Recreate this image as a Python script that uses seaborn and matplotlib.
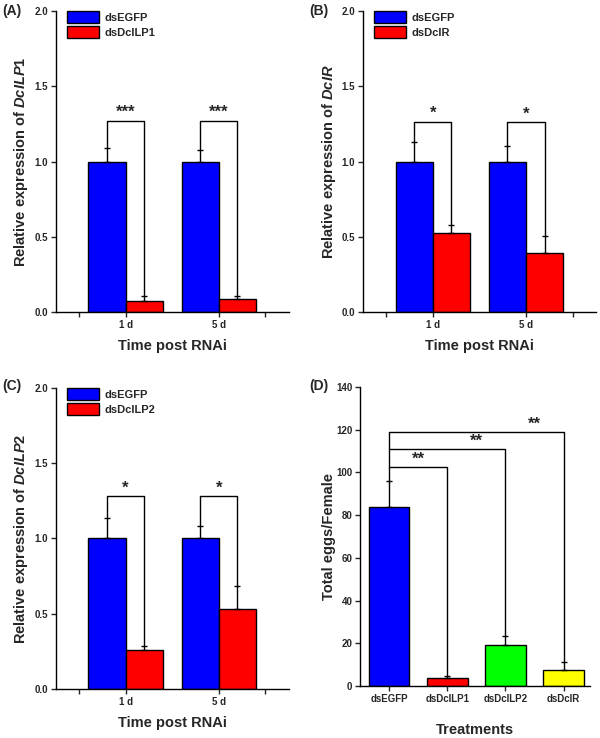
import matplotlib
matplotlib.use("Agg")
import matplotlib.pyplot as plt
import seaborn as sns
import pandas as pd
from matplotlib.patches import Patch

sns.set_style("ticks")
plt.rcParams['font.family'] = ['Liberation Sans', 'DejaVu Sans']
plt.rcParams['font.weight'] = 'bold'
plt.rcParams['axes.labelweight'] = 'bold'
plt.rcParams['mathtext.fontset'] = 'custom'
plt.rcParams['mathtext.it'] = 'Liberation Sans:italic:bold'
plt.rcParams['mathtext.rm'] = 'Liberation Sans:bold'

# data
days = ["1 d", "5 d"]

egfp_a = [1.0, 1.0]
egfp_a_err = [0.093, 0.075]
ilp1_a = [0.071, 0.084]
ilp1_a_err = [0.038, 0.025]
bracket_a = [1.27, 1.27]

egfp_b = [1.0, 1.0]
egfp_b_err = [0.131, 0.106]
ir_b = [0.523, 0.395]
ir_b_err = [0.053, 0.11]
bracket_b = [1.265, 1.26]

egfp_c = [1.0, 1.0]
egfp_c_err = [0.134, 0.081]
ilp2_c = [0.257, 0.532]
ilp2_c_err = [0.031, 0.15]
bracket_c = [1.28, 1.28]

treatments = ["dsEGFP", "dsDcILP1", "dsDcILP2", "dsDcIR"]
eggs = [84.0, 3.6, 19.3, 7.7]
eggs_err = [12.0, 1.2, 4.3, 3.5]
bracket_d = [102.5, 111.0, 119.0]
stars_d = ["**", "**", "**"]

BLUE = "#0000ff"
RED = "#ff0000"
TICK_FS = 7
LABEL_FS = 10.5
STAR_FS = 12

fig = plt.figure(figsize=(6, 7.38), dpi=100)


def style_axis(ax):
    sns.despine(ax=ax)
    ax.tick_params(axis="both", direction="out", length=3.5, width=1, labelsize=TICK_FS, pad=2)
    for s in ["left", "bottom"]:
        ax.spines[s].set_linewidth(1)
        ax.spines[s].set_color("black")
    for lab in ax.get_xticklabels() + ax.get_yticklabels():
        lab.set_fontweight("bold")


def expr_panel(rect, ctrl, ctrl_err, trt, trt_err, trt_name, gene, brackets, stars, tag, tag_xy):
    ax = fig.add_axes(rect)
    df = pd.DataFrame({
        "day": days + days,
        "group": ["dsEGFP"] * len(days) + [trt_name] * len(days),
        "value": ctrl + trt,
    })
    sns.barplot(data=df, x="day", y="value", hue="group", palette=[BLUE, RED],
                edgecolor="black", linewidth=1, errorbar=None, width=0.8,
                saturation=1, ax=ax, legend=False)
    tops = []
    for cont, err in zip(ax.containers, [ctrl_err, trt_err]):
        xs = [b.get_x() + b.get_width() / 2 for b in cont]
        ys = [b.get_height() for b in cont]
        ax.errorbar(xs, ys, yerr=[[0] * len(err), err], fmt="none", ecolor="black",
                    elinewidth=1, capsize=2.5, capthick=1, zorder=1)
        tops.append([(x, y + e) for x, y, e in zip(xs, ys, err)])
    for i in range(len(days)):
        (x1, y1), (x2, y2) = tops[0][i], tops[1][i]
        h = brackets[i]
        ax.plot([x1, x1, x2, x2], [y1, h, h, y2], color="black", lw=1, zorder=3)
        ax.text((x1 + x2) / 2, h + 0.005, stars, ha="center", va="bottom",
                fontsize=STAR_FS, fontweight="bold")
    ax.set_ylim(0, 2.0)
    ax.set_yticks([0, 0.5, 1.0, 1.5, 2.0])
    ax.set_xlim(-0.75, len(days) - 0.25)
    ax.set_xticks([-0.5] + list(range(len(days))) + [len(days) - 0.5],
                  [""] + days + [""])
    ax.set_xlabel("Time post RNAi", fontsize=LABEL_FS, fontweight="bold", labelpad=7)
    ax.set_ylabel("Relative expression of $\\mathit{" + gene + "}$", fontsize=LABEL_FS,
                  fontweight="bold", labelpad=3)
    handles = [Patch(facecolor=BLUE, edgecolor="black", lw=1),
               Patch(facecolor=RED, edgecolor="black", lw=1)]
    ax.legend(handles, ["dsEGFP", trt_name], loc="upper left", bbox_to_anchor=(0.047, 1.0),
              frameon=False, prop={"size": 8, "weight": "bold"}, borderpad=0,
              borderaxespad=0, handlelength=2.9, handleheight=1.35, labelspacing=0.2,
              handletextpad=0.5)
    style_axis(ax)
    fig.text(tag_xy[0], tag_xy[1], tag, fontsize=10, fontweight="bold", va="top")
    return ax


expr_panel([0.093, 0.5772, 0.388, 0.4079], egfp_a, egfp_a_err, ilp1_a, ilp1_a_err,
           "dsDcILP1", "DcILP1", bracket_a, "***", "(A)", (0.004, 0.995))
expr_panel([0.605, 0.5772, 0.388, 0.4079], egfp_b, egfp_b_err, ir_b, ir_b_err,
           "dsDcIR", "DcIR", bracket_b, "*", "(B)", (0.515, 0.995))
expr_panel([0.093, 0.0664, 0.388, 0.4079], egfp_c, egfp_c_err, ilp2_c, ilp2_c_err,
           "dsDcILP2", "DcILP2", bracket_c, "*", "(C)", (0.004, 0.486))

# panel D
ax = fig.add_axes([0.6, 0.0705, 0.383, 0.405])
dfd = pd.DataFrame({"treatment": treatments, "eggs": eggs})
sns.barplot(data=dfd, x="treatment", y="eggs", hue="treatment",
            palette=[BLUE, RED, "#00ff00", "#ffff00"], edgecolor="black", linewidth=1,
            errorbar=None, width=0.7, saturation=1, ax=ax, legend=False)
bars = ax.patches[:len(treatments)]
xs = [b.get_x() + b.get_width() / 2 for b in bars]
ys = [b.get_height() for b in bars]
ax.errorbar(xs, ys, yerr=[[0] * len(eggs_err), eggs_err], fmt="none", ecolor="black",
            elinewidth=1, capsize=2.5, capthick=1, zorder=1)
err_tops = [y + e for y, e in zip(ys, eggs_err)]
ax.plot([xs[0], xs[0]], [err_tops[0], max(bracket_d)], color="black", lw=1, zorder=3)
for i, h in enumerate(bracket_d, start=1):
    ax.plot([xs[0], xs[i], xs[i]], [h, h, err_tops[i]], color="black", lw=1, zorder=3)
    ax.text((xs[i - 1] + xs[i]) / 2, h + 0.3, stars_d[i - 1], ha="center", va="bottom",
            fontsize=STAR_FS, fontweight="bold")
ax.set_ylim(0, 140)
ax.set_yticks(range(0, 141, 20))
ax.set_xlim(-0.5, len(treatments) - 0.55)
ax.set_xlabel("Treatments", fontsize=LABEL_FS, fontweight="bold", labelpad=14)
ax.set_ylabel("Total eggs/Female", fontsize=LABEL_FS, fontweight="bold", labelpad=0)
style_axis(ax)
fig.text(0.515, 0.486, "(D)", fontsize=10, fontweight="bold", va="top")

fig.savefig("out.png", dpi=100)
